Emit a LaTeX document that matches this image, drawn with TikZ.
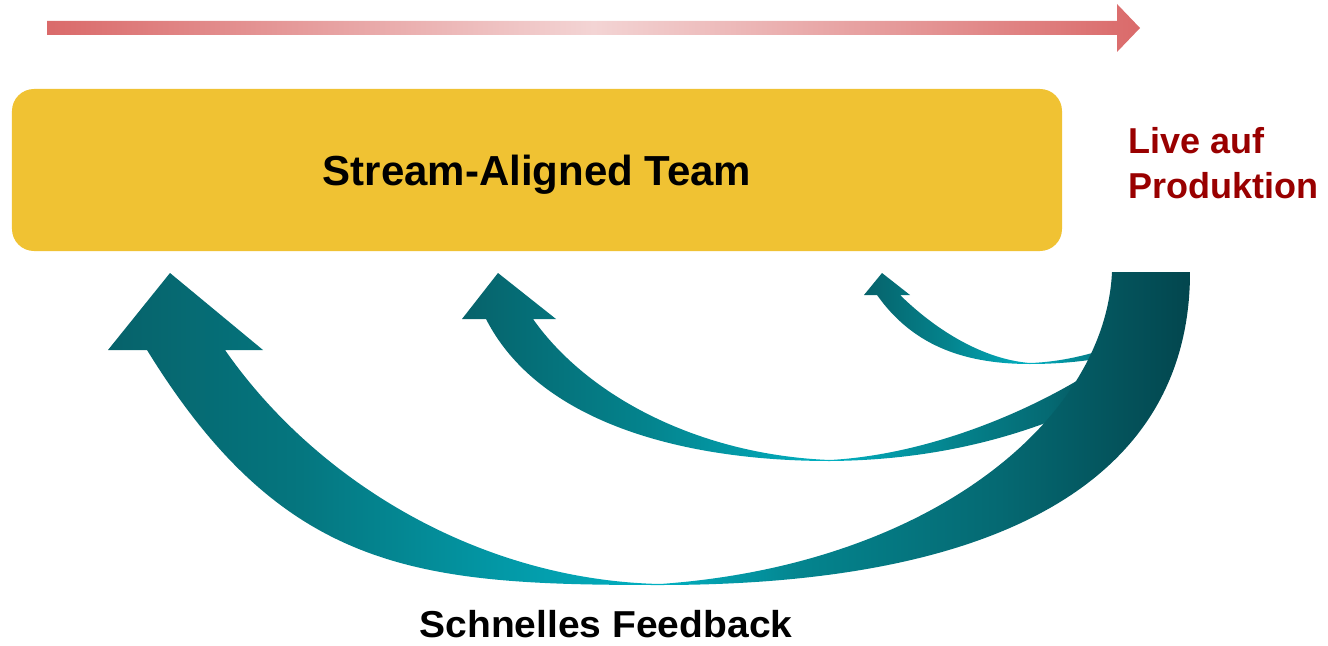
\documentclass[tikz,border=0pt]{standalone}
\usepackage{fontspec}
\usepackage{graphicx}
\setmainfont{Liberation Sans}
\definecolor{boxyellow}{RGB}{240,194,51}
\definecolor{liveRed}{RGB}{153,0,0}
\definecolor{redEnd}{RGB}{218,106,106}
\definecolor{redMid}{RGB}{243,212,212}
\definecolor{tHead}{RGB}{6,98,106}
\definecolor{tL}{RGB}{5,118,127}
\definecolor{tA}{RGB}{4,132,142}
\definecolor{tC}{RGB}{3,152,166}
\definecolor{tBright}{RGB}{2,176,193}
\definecolor{tB}{RGB}{5,105,114}
\definecolor{tR}{RGB}{4,118,128}
\definecolor{tDark}{RGB}{3,70,78}
\pgfdeclarehorizontalshading{bigsh}{100bp}{color(0bp)=(tHead); color(25bp)=(tHead); color(33.9bp)=(tL); color(43.1bp)=(tC); color(50.5bp)=(tBright); color(57bp)=(tA); color(66.2bp)=(tB); color(75bp)=(tDark); color(100bp)=(tDark)}
\pgfdeclarehorizontalshading{midsh}{100bp}{color(0bp)=(tHead); color(25bp)=(tHead); color(39bp)=(tA); color(52.5bp)=(tBright); color(61.5bp)=(tA); color(69bp)=(tB); color(75bp)=(tDark); color(100bp)=(tDark)}
\pgfdeclarehorizontalshading{smallsh}{100bp}{color(0bp)=(tHead); color(25bp)=(tHead); color(41.8bp)=(tA); color(57.4bp)=(tBright); color(71bp)=(tR); color(75bp)=(tB); color(100bp)=(tB)}
\tikzset{
  teambox/.style={fill=boxyellow, rounded corners=22bp, minimum width=1050bp, minimum height=162bp, inner sep=0pt},
  boldtext/.style={font=\bfseries, inner sep=0pt},
}
\begin{document}
\begin{tikzpicture}[x=1bp, y=-1bp]
\useasboundingbox (0,0) rectangle (1328,646);
% top progress arrow
\path[left color=redEnd, right color=redEnd, middle color=redMid]
  (47,21) -- (1117,21) -- (1117,4) -- (1140,28) -- (1117,52) -- (1117,35) -- (47,35) -- cycle;
% team box
\node[teambox] (team) at (537,170) {};
\node[boldtext, font=\bfseries\fontsize{42bp}{48bp}\selectfont, anchor=base] (teamlabel) at (537,186) {Stream-Aligned Team};
% live label
\node[boldtext, font=\bfseries\fontsize{36bp}{44bp}\selectfont, text=liveRed, anchor=base west] (live1) at (1128,154) {Live auf};
\node[boldtext, font=\bfseries\fontsize{36bp}{44bp}\selectfont, text=liveRed, anchor=base west] (live2) at (1128,199) {Produktion};
% feedback label
\node[boldtext, font=\bfseries\fontsize{37.5bp}{44bp}\selectfont, anchor=base] (feedback) at (606,637) {\scalebox{1.04}[1]{Schnelles Feedback}};
% middle feedback arrow
\path[shading=midsh]
  (1110,395) .. controls (1040,430) and (950,460) .. (830,461)
  .. controls (680,461) and (538,421) .. (486,319)
  -- (462,319) -- (498,273) -- (556,319) -- (533,319)
  .. controls (588,397) and (700,455) .. (830,460)
  .. controls (940,454) and (1060,400) .. (1130,345) -- cycle;
% small feedback arrow
\path[shading=smallsh]
  (1118,355) .. controls (1090,361) and (1060,364) .. (1030,364)
  .. controls (960,364) and (911,343) .. (877,295)
  -- (864,295) -- (882,273) -- (910,295) -- (900,295)
  .. controls (943,337) and (990,360) .. (1030,363)
  .. controls (1060,362) and (1090,355) .. (1120,344) -- cycle;
% big feedback arrow
\path[shading=bigsh]
  (1112,272) -- (1190,272)
  .. controls (1190,480) and (1000,585) .. (660,585)
  .. controls (420,585) and (285,574) .. (147,350)
  -- (108,350) -- (170,273) -- (263,350) -- (225,350)
  .. controls (317,482) and (480,580) .. (660,584)
  .. controls (930,565) and (1105,420) .. (1112,272) -- cycle;
\end{tikzpicture}
\end{document}
